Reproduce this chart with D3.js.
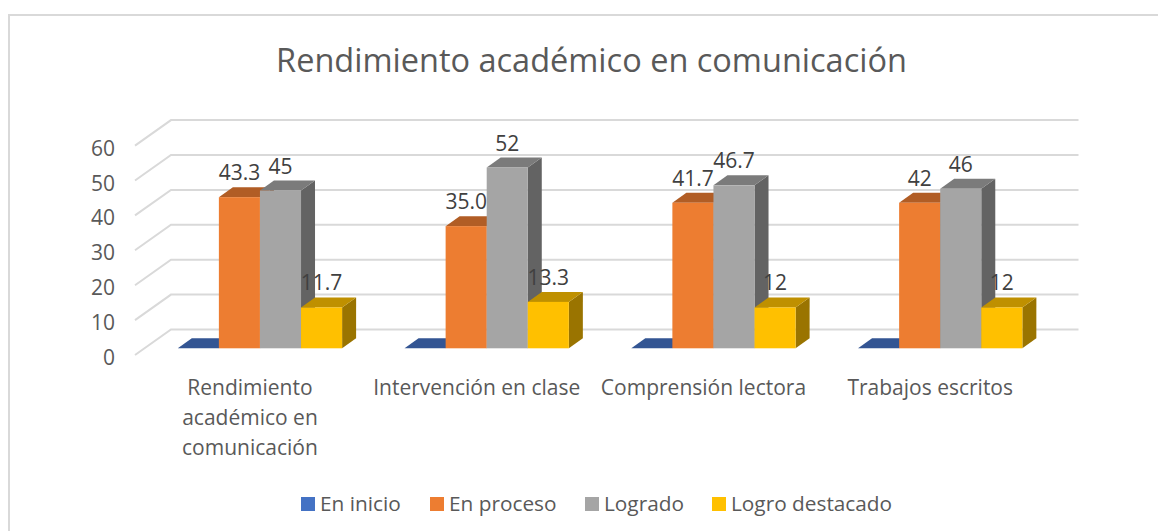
<!DOCTYPE html>
<html>
<head>
<meta charset="utf-8">
<script src="https://cdn.jsdelivr.net/npm/d3@7"></script>
<style>
body{margin:0;background:#fff;}
svg{display:block;}
text{font-family:"Open Sans",sans-serif;}
</style>
</head>
<body>
<div id="chart"></div>
<script>
(function(){

const categories = [
["Rendimiento","académico en","comunicación"],
["Intervención en clase"],
["Comprensión lectora"],
["Trabajos escritos"]
];
const seriesNames = ["En inicio","En proceso","Logrado","Logro destacado"];
const enInicio = [0,0,0,0];
const enProceso = [43.3,35.0,41.7,41.7];
const logrado = [45.2,51.8,46.7,45.7];
const logroDestacado = [11.7,13.3,11.7,11.7];
// printed labels are rounded differently from the bar heights
const labelsEnProceso = ["43.3","35.0","41.7","42"];
const labelsLogrado = ["45","52","46.7","46"];
const labelsDestacado = ["11.7","13.3","12","12"];
const yTicks = [0,10,20,30,40,50,60];

const width = 1158;
const height = 531;

const svg = d3.select("#chart")
.append("svg")
.attr("width",width)
.attr("height",height);

// chart frame, only top and left are in the picture
svg.append("path")
.attr("d",`M9,531V15H1158`)
.attr("fill","none")
.attr("stroke","#d9d9d9")
.attr("stroke-width",2);

// title
svg.append("text")
.attr("x",591.5)
.attr("y",72)
.attr("text-anchor","middle")
.attr("font-size","32.5px")
.attr("fill","#595959")
.text("Rendimiento académico en comunicación");

const y = d3.scaleLinear().domain([0,60]).range([348.3,138.9]);

const x0 = d3.scaleBand()
.domain(d3.range(categories.length))
.range([146.6,1053.6]);

const x1 = d3.scaleBand()
.domain(d3.range(seriesNames.length))
.range([31.2,195.5]);

// depth of the floor and of the bars
const wallDx = 36, wallDy = -25.5, floorFront = 6.7;
const barDx = 14, barDy = -10;

// -------------------
// GRIDLINES
// -------------------
svg.append("g").selectAll("path")
.data(yTicks)
.enter()
.append("path")
.attr("d",d=>{
const yy = y(d)+floorFront;
return `M135,${yy}l${wallDx},${wallDy}H1078.5`;
})
.attr("fill","none")
.attr("stroke","#d9d9d9")
.attr("stroke-width",2);

// -------------------
// BARS
// -------------------
const colors = ["#4472c4","#ed7d31","#a5a5a5","#ffc000"];
const topColors = ["#335593","#b15d25","#7b7b7b","#bf9000"];
const sideColors = ["#29447a","#8e4b1d","#636363","#9a7400"];

const rows = [];
const seriesValues = [enInicio,enProceso,logrado,logroDestacado];
seriesValues.forEach((vals,s)=>{
vals.forEach((v,c)=>rows.push({s:s,c:c,v:v}));
});

const bars = svg.append("g").selectAll("g")
.data(rows)
.enter()
.append("g")
.attr("transform",d=>`translate(${x0(d.c)+x1(d.s)},${y(d.v)})`);

// side
bars.append("path")
.attr("d",d=>{
const w = x1.bandwidth(), h = y(0)-y(d.v);
return `M${w},0l${barDx},${barDy}v${h}l${-barDx},${-barDy}Z`;
})
.attr("fill",d=>sideColors[d.s]);

// top
bars.append("path")
.attr("d",d=>{
const w = x1.bandwidth();
return `M0,0l${barDx},${barDy}h${w}l${-barDx},${-barDy}Z`;
})
.attr("fill",d=>topColors[d.s]);

// front
bars.append("rect")
.attr("width",x1.bandwidth())
.attr("height",d=>y(0)-y(d.v))
.attr("fill",d=>colors[d.s]);

// -------------------
// VALUE LABELS
// -------------------
const labelTexts = [null,labelsEnProceso,labelsLogrado,labelsDestacado];
svg.append("g").selectAll("text")
.data(rows.filter(d=>d.s>0))
.enter()
.append("text")
.attr("x",d=>x0(d.c)+x1(d.s)+x1.bandwidth()/2)
.attr("y",d=>y(d.v)-17)
.attr("text-anchor","middle")
.attr("font-size","21px")
.attr("fill","#404040")
.text(d=>labelTexts[d.s][d.c]);

// -------------------
// Y AXIS
// -------------------
const yAxis = d3.axisLeft(y)
.tickValues(yTicks)
.tickSize(0)
.tickPadding(0);

const yAxisG = svg.append("g")
.attr("transform",`translate(115,9.5)`)
.call(yAxis);
yAxisG.select(".domain").remove();
yAxisG.selectAll("text")
.style("font-family",'"Open Sans",sans-serif')
.style("font-size","21px")
.attr("fill","#595959");

// -------------------
// CATEGORY LABELS
// -------------------
svg.append("g").selectAll("text")
.data(categories)
.enter()
.append("text")
.attr("text-anchor","middle")
.attr("font-size","21px")
.attr("fill","#595959")
.each(function(d,i){
d3.select(this).selectAll("tspan")
.data(d)
.enter()
.append("tspan")
.attr("x",x0(i)+x0.bandwidth()/2-10)
.attr("y",(t,j)=>395+j*30)
.text(t=>t);
});

// -------------------
// LEGEND
// -------------------
const legendX = [301,430,585,712];
const legend = svg.append("g").selectAll("g")
.data(seriesNames)
.enter()
.append("g")
.attr("transform",(d,i)=>`translate(${legendX[i]},497)`);

legend.append("rect")
.attr("width",14)
.attr("height",14)
.attr("fill",(d,i)=>colors[i]);

legend.append("text")
.attr("x",19)
.attr("y",14)
.attr("font-size","20.8px")
.attr("fill","#595959")
.text(d=>d);

})();
</script>
</body>
</html>
